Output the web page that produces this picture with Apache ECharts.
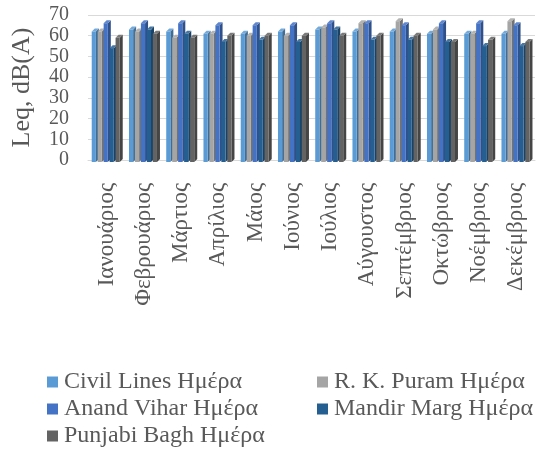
<!DOCTYPE html>
<html>
<head>
<meta charset="utf-8">
<script src="https://cdn.jsdelivr.net/npm/echarts@6/dist/echarts.min.js"></script>
<style>
  html, body { margin: 0; padding: 0; background: #fff; }
  #chart { width: 537px; height: 450px; }
</style>
</head>
<body>
<div id="chart"></div>
<script>
// Monthly daytime noise levels Leq, dB(A), per monitoring station
const months = ['Ιανουάριος', 'Φεβρουάριος', 'Μάρτιος', 'Απρίλιος', 'Μάιος', 'Ιούνιος',
  'Ιούλιος', 'Αύγουστος', 'Σεπτέμβριος', 'Οκτώβριος', 'Νοέμβριος', 'Δεκέμβριος'];
const civilLines   = [62, 63, 62, 61, 61, 62, 63, 62, 62, 61, 61, 61];
const rkPuram      = [62, 62, 59, 61, 60, 60, 64, 66, 67, 63, 61, 67];
const anandVihar   = [66, 66, 66, 65, 65, 65, 66, 66, 65, 66, 66, 65];
const mandirMarg   = [54, 63, 61, 57, 58, 57, 63, 58, 58, 57, 55, 55];
const punjabiBagh  = [59, 61, 59, 60, 60, 60, 60, 60, 60, 57, 58, 57];
const yTicks = [0, 10, 20, 30, 40, 50, 60, 70];

const seriesDefs = [
  { name: 'Civil Lines Ημέρα',  data: civilLines,  color: '#5B9BD5' },
  { name: 'R. K. Puram Ημέρα',  data: rkPuram,     color: '#A5A5A5' },
  { name: 'Anand Vihar Ημέρα',  data: anandVihar,  color: '#4472C4' },
  { name: 'Mandir Marg Ημέρα',  data: mandirMarg,  color: '#255E91' },
  { name: 'Punjabi Bagh Ημέρα', data: punjabiBagh, color: '#636363' }
];

function shade(hex, f) {
  const n = parseInt(hex.slice(1), 16);
  const ch = [(n >> 16) & 255, (n >> 8) & 255, n & 255].map(function (c) {
    return Math.max(0, Math.min(255, Math.round(f < 1 ? c * f : c + (255 - c) * (f - 1))));
  });
  return 'rgb(' + ch.join(',') + ')';
}

const FONT = '"Liberation Serif", "DejaVu Serif", serif';
const DEPTH = 3;

// Column with a shallow side and top face for a 3D look
function makeRender(si, color) {
  return function (params, api) {
    const idx = api.value(0);
    const val = api.value(1);
    const top = api.coord([idx, val]);
    const base = api.coord([idx, 0]);
    const band = api.size([1, 0])[0];
    const groupW = band * 0.8;
    const barW = groupW / seriesDefs.length;
    const x0 = top[0] - groupW / 2 + si * barW;
    const w = barW - DEPTH * 0.6;
    const yT = top[1], yB = base[1] + 2;
    const d = DEPTH;
    return {
      type: 'group',
      children: [
        { type: 'polygon', shape: { points: [[x0 + w, yT], [x0 + w + d, yT - d], [x0 + w + d, yB - d], [x0 + w, yB]] },
          style: { fill: shade(color, 0.7) } },
        { type: 'polygon', shape: { points: [[x0, yT], [x0 + d, yT - d], [x0 + w + d, yT - d], [x0 + w, yT]] },
          style: { fill: shade(color, 1.15) } },
        { type: 'rect', shape: { x: x0, y: yT, width: w, height: yB - yT },
          style: { fill: color } }
      ]
    };
  };
}

const series = seriesDefs.map(function (s, i) {
  return {
    type: 'custom',
    name: s.name,
    itemStyle: { color: s.color },
    renderItem: makeRender(i, s.color),
    encode: { x: 0, y: 1 },
    data: s.data.map(function (v, k) { return [k, v]; }),
    z: 2 + i
  };
});

const legendPos = [
  { left: 47,  top: 370 },
  { left: 317, top: 370 },
  { left: 47,  top: 397 },
  { left: 317, top: 397 },
  { left: 47,  top: 424 }
];
const legends = seriesDefs.map(function (s, i) {
  return {
    data: [s.name],
    left: legendPos[i].left,
    top: legendPos[i].top,
    icon: 'rect',
    itemWidth: 11,
    itemHeight: 11,
    itemGap: 4,
    padding: 0,
    selectedMode: false,
    textStyle: { fontFamily: FONT, fontSize: 24, color: '#595959', padding: [0, 0, 0, 1] }
  };
});

const chart = echarts.init(document.getElementById('chart'), null, { renderer: 'canvas' });
chart.setOption({
  animation: false,
  backgroundColor: '#fff',
  grid: { left: 88, right: 2, top: 15, bottom: 290, containLabel: false },
  legend: legends,
  xAxis: {
    type: 'category',
    data: months,
    axisLine: { show: true, lineStyle: { color: '#d9d9d9' } },
    axisTick: { show: false },
    axisLabel: { rotate: 90, fontFamily: FONT, fontSize: 23, color: '#595959', margin: 23, interval: 0 }
  },
  yAxis: {
    type: 'value',
    min: yTicks[0],
    max: yTicks[yTicks.length - 1],
    interval: 10,
    name: 'Leq, dB(A)',
    nameLocation: 'middle',
    nameGap: 53,
    nameTextStyle: { fontFamily: FONT, fontSize: 26, color: '#595959' },
    axisLine: { show: false },
    axisTick: { show: false },
    splitLine: { lineStyle: { color: '#d9d9d9', width: 1 } },
    axisLabel: { fontFamily: FONT, fontSize: 20, color: '#595959', margin: 19 }
  },
  series: series
});
</script>
</body>
</html>
